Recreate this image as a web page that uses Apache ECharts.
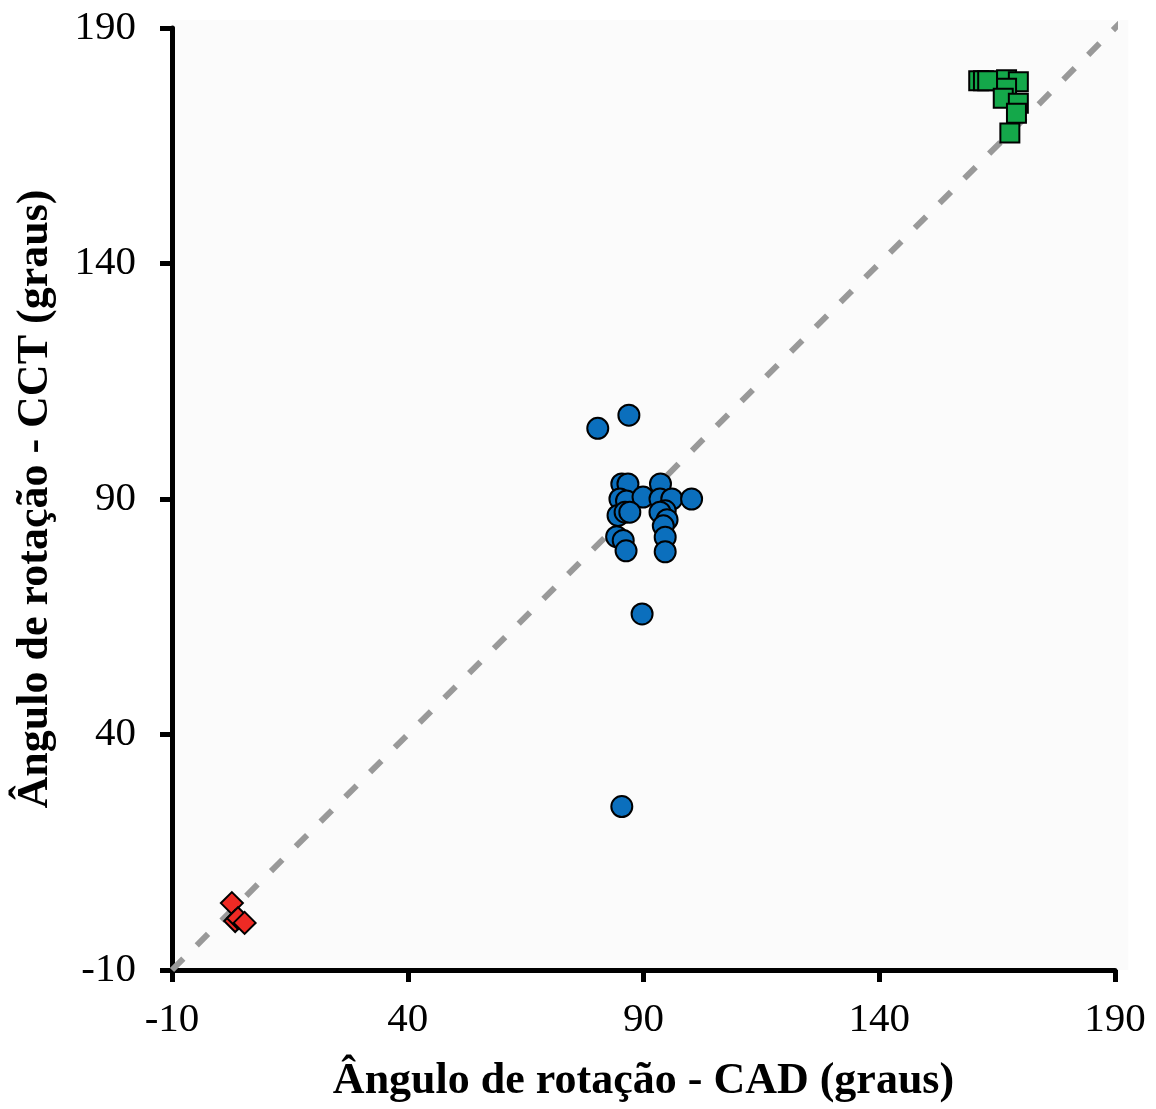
<!DOCTYPE html>
<html>
<head>
<meta charset="utf-8">
<script src="https://cdn.jsdelivr.net/npm/echarts@6/dist/echarts.min.js"></script>
<style>
  html, body { margin: 0; padding: 0; background: #ffffff; }
  #chart { width: 1156px; height: 1109px; }
</style>
</head>
<body>
<div id="chart"></div>
<script>
// Axis ticks (degrees)
const axisMin = -10;
const axisMax = 190;
const axisStep = 50;

// Identity reference line (CAD = CCT)
const identityLine = [[-10, -10], [192.5, 192.5]];

// Rotation angles: [CAD, CCT] in degrees
const groupNear0 = [
  [2.7, 4.2], [3.4, 0.4], [4.0, 1.0], [5.4, 0.0]
];
const groupNear90 = [
  [80.3, 105.0], [86.9, 107.8],
  [85.4, 93.2], [86.7, 93.2], [85.0, 90.0], [86.4, 89.6], [89.9, 90.4],
  [84.6, 86.5], [86.1, 87.2], [87.1, 87.2], [84.3, 82.0], [85.7, 81.2], [86.3, 79.0],
  [93.6, 93.2], [93.5, 90.0], [96.0, 90.0], [100.2, 90.0], [94.6, 87.5], [93.5, 87.2],
  [95.0, 85.6], [94.2, 84.3], [94.6, 81.9], [94.6, 78.8],
  [89.7, 65.6], [85.4, 24.7]
];
const groupNear180 = [
  [161.1, 178.8], [162.1, 178.8], [163.0, 178.8], [167.0, 179.0], [169.5, 178.6],
  [167.0, 177.2], [166.3, 175.1], [169.5, 174.0], [169.1, 171.9], [167.7, 167.7]
];

const serif = '"Liberation Serif", "DejaVu Serif", serif';

const chart = echarts.init(document.getElementById('chart'), null, { renderer: 'canvas' });

const axisCommon = {
  type: 'value',
  min: axisMin,
  max: axisMax,
  interval: axisStep,
  splitLine: { show: false },
  axisLine: { show: true, onZero: false, lineStyle: { color: '#000', width: 5 } },
  axisTick: { show: true, inside: false, length: 12, lineStyle: { color: '#000', width: 5 } },
  axisLabel: { color: '#000', fontFamily: serif, fontSize: 41 },
  nameLocation: 'middle',
  nameTextStyle: { color: '#000', fontFamily: serif, fontSize: 44, fontWeight: 'bold' }
};

chart.setOption({
  animation: false,
  backgroundColor: '#ffffff',
  grid: { left: 172, top: 28, right: 41, bottom: 137, containLabel: false },
  xAxis: Object.assign({}, axisCommon, {
    name: 'Ângulo de rotação - CAD (graus)',
    nameGap: 90,
    axisLabel: Object.assign({}, axisCommon.axisLabel, { margin: 30 })
  }),
  yAxis: Object.assign({}, axisCommon, {
    name: 'Ângulo de rotação - CCT (graus)',
    nameGap: 114,
    axisLabel: Object.assign({}, axisCommon.axisLabel, { margin: 36 })
  }),
  series: [
    {
      type: 'line',
      data: identityLine,
      clip: false,
      symbol: 'none',
      z: 1,
      lineStyle: { color: '#999999', width: 6, type: [16, 19], cap: 'butt' }
    },
    {
      type: 'scatter',
      data: groupNear0,
      symbol: 'diamond',
      symbolSize: 22,
      z: 3,
      itemStyle: { color: '#ee2a24', borderColor: '#000', borderWidth: 2, opacity: 1 }
    },
    {
      type: 'scatter',
      data: groupNear90,
      symbol: 'circle',
      symbolSize: 21,
      z: 3,
      itemStyle: { color: '#0b6fbd', borderColor: '#000', borderWidth: 2, opacity: 1 }
    },
    {
      type: 'scatter',
      data: groupNear180,
      symbol: 'rect',
      symbolSize: 19,
      z: 3,
      itemStyle: { color: '#14a84a', borderColor: '#000', borderWidth: 2, opacity: 1 }
    }
  ]
});

// Light plot-area panel, slightly larger than the axis range, drawn behind everything
const p0 = chart.convertToPixel({ gridIndex: 0 }, [axisMin, axisMin]);
const p1 = chart.convertToPixel({ gridIndex: 0 }, [192.8, 191.7]);
chart.setOption({
  graphic: [{
    type: 'rect',
    z: -10,
    silent: true,
    shape: { x: p0[0], y: p1[1], width: p1[0] - p0[0], height: p0[1] - p1[1] },
    style: { fill: '#fbfbfb' }
  }]
});
</script>
</body>
</html>
